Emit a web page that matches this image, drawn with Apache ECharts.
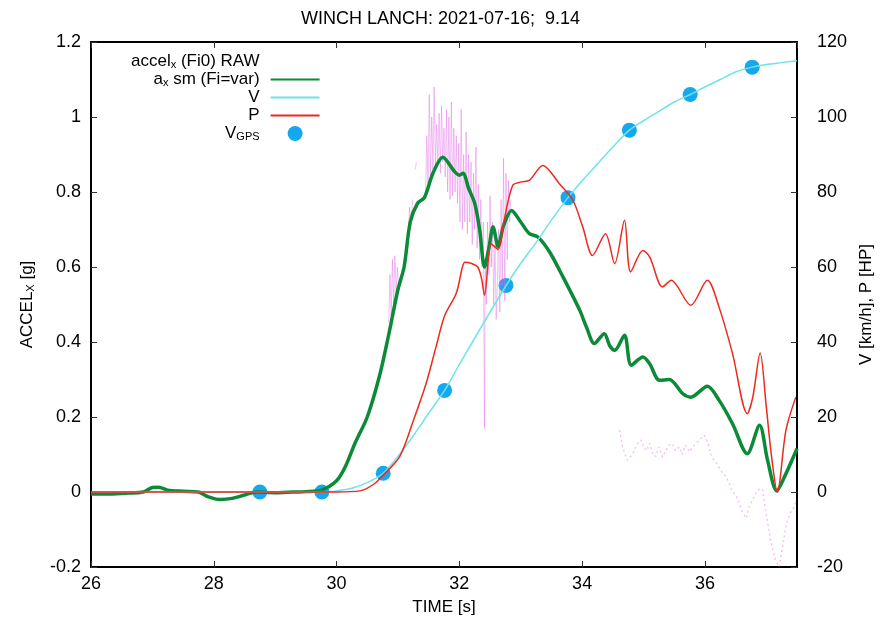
<!DOCTYPE html>
<html>
<head>
<meta charset="utf-8">
<script src="https://cdn.jsdelivr.net/npm/echarts@6/dist/echarts.min.js"></script>
<style>
  html, body { margin: 0; padding: 0; background: #fff; }
  #main { width: 881px; height: 625px; }
</style>
</head>
<body>
<div id="main"></div>
<script>
// raw acceleration samples, noisy part (vertical streaks), null = gap
var rawTime = [
    30.85, 30.87, 30.89, 30.91, 30.93, 30.95, 30.97, 30.99, 31.01, 31.03,
    31.17, 31.19, 31.21, 31.24, 31.26,
    31.28, 31.30, 31.32,
    31.45, 31.47, 31.49, 31.51, 31.53, 31.55, 31.57, 31.59, 31.61, 31.63, 31.65, 31.67, 31.69, 31.71, 31.73, 31.75,
    31.77, 31.79, 31.81, 31.83, 31.85, 31.87, 31.89, 31.91, 31.93, 31.95, 31.97, 31.99, 32.01, 32.03, 32.05, 32.07,
    32.09, 32.11, 32.13, 32.15, 32.17, 32.19, 32.21, 32.23, 32.25, 32.27, 32.29, 32.31, 32.33, 32.35, 32.37, 32.39,
    32.41, 32.42, 32.44, 32.46, 32.48, 32.50, 32.52, 32.54, 32.56, 32.58, 32.60, 32.62, 32.64, 32.66, 32.68, 32.70,
    32.72, 32.74, 32.76, 32.78, 32.80, 32.82, 32.84, 32.86,
    33.55, 33.57, 33.59,
    34.30, 34.33, 34.35
];
var rawAccel = [
    0.45, 0.58, 0.47, 0.62, 0.50, 0.63, 0.53, 0.60, 0.55, null,
    0.70, 0.76, 0.71, 0.78, null,
    0.86, 0.88, null,
    0.80, 0.95, 0.82, 1.06, 0.84, 1.00, 0.86, 1.08, 0.87, 0.98, 0.88, 1.01, 0.85, 1.03, 0.88, 0.97,
    0.84, 1.02, 0.80, 1.00, 0.78, 1.04, 0.79, 0.97, 0.80, 0.95, 0.77, 0.93, 0.72, 1.02, 0.70, 0.90,
    0.72, 0.96, 0.69, 0.90, 0.72, 0.88, 0.66, 0.85, 0.70, 0.92, 0.65, 0.82, 0.62, 0.78, 0.60, 0.72,
    0.17, 0.62, 0.50, 0.72, 0.58, 0.79, 0.60, 0.72, 0.50, 0.66, 0.46, 0.56, 0.70, 0.48, 0.78, 0.55,
    0.89, 0.51, 0.85, 0.62, 0.83, 0.72, 0.78, null,
    0.63, 0.60, null,
    0.43, 0.41, null
];
// raw acceleration, late sparse part
var rawLateTime = [
    34.61, 34.66, 34.70, 34.74, 34.77, 34.82, 34.87, 34.92, 34.96, 35.00, 35.05, 35.10, 35.15, 35.20, 35.25, 35.31,
    35.36, 35.42, 35.47, 35.52, 35.58, 35.63, 35.68, 35.75, 35.80, 35.86, 35.92, 35.99, 36.05, 36.10, 36.15, 36.20,
    36.25, 36.29, 36.35, 36.40, 36.45, 36.51, 36.56, 36.60, 36.67, 36.72, 36.78, 36.84, 36.90, 36.94, 36.98, 37.02,
    37.06, 37.10, 37.15, 37.21, 37.26, 37.32, 37.38, 37.45, 37.50
];
var rawLateAccel = [
    0.165, 0.12, 0.10, 0.085, 0.08, 0.10, 0.12, 0.135, 0.138, 0.12, 0.11, 0.13, 0.10, 0.095, 0.12, 0.093,
    0.11, 0.125, 0.129, 0.11, 0.12, 0.10, 0.125, 0.107, 0.12, 0.13, 0.14, 0.151, 0.13, 0.10, 0.085, 0.075,
    0.06, 0.05, 0.04, 0.02, 0.0, -0.01, -0.03, -0.05, -0.07, -0.04, -0.02, 0.0, 0.01, 0.005, -0.04, -0.08,
    -0.12, -0.15, -0.18, -0.20, -0.15, -0.09, -0.06, -0.04, -0.02
];

// smoothed acceleration
var smTime = [
    26.0, 26.3, 26.6, 26.85, 27.0, 27.1, 27.25, 27.5, 27.75, 27.9, 28.1, 28.3, 28.5, 28.7, 29.0, 29.3,
    29.5, 29.75, 30.0, 30.15, 30.3, 30.5, 30.7, 30.85, 31.0, 31.1, 31.2, 31.32, 31.43, 31.57, 31.73, 31.92,
    32.0, 32.06, 32.15, 32.25, 32.33, 32.41, 32.48, 32.55, 32.63, 32.72, 32.85, 33.0, 33.14, 33.28, 33.47, 33.69,
    33.96, 34.07, 34.2, 34.36, 34.45, 34.53, 34.69, 34.8, 34.99, 35.1, 35.26, 35.42, 35.64, 35.77, 36.04, 36.23,
    36.45, 36.69, 36.89, 37.02, 37.17, 37.32, 37.5
];
var smAccel = [
    -0.005, -0.005, -0.003, 0.0, 0.012, 0.013, 0.005, 0.002, 0.0, -0.012, -0.02, -0.017, -0.008, 0.0, -0.002, 0.0,
    0.001, 0.005, 0.03, 0.07, 0.13, 0.2, 0.31, 0.42, 0.54, 0.6, 0.72, 0.77, 0.785, 0.85, 0.893, 0.855,
    0.845, 0.85, 0.81, 0.77, 0.70, 0.60, 0.65, 0.707, 0.655, 0.71, 0.751, 0.72, 0.689, 0.68, 0.64, 0.573,
    0.485, 0.44, 0.396, 0.422, 0.39, 0.378, 0.418, 0.338, 0.36, 0.342, 0.298, 0.30, 0.262, 0.253, 0.282, 0.245,
    0.182, 0.102, 0.178, 0.085, 0.003, 0.049, 0.116
];

// speed V [km/h]
var vTime = [26.0, 29.8, 30.0, 30.25, 30.5, 30.76, 31.0, 31.25, 31.5, 31.76, 32.0, 32.25, 32.5, 32.76, 33.0, 33.25,
    33.5, 33.77, 34.0, 34.25, 34.5, 34.77, 35.0, 35.25, 35.5, 35.76, 36.0, 36.25, 36.5, 36.77, 37.0, 37.25, 37.5];
var vSpeed = [0, 0, 0.3, 1, 2.5, 5, 9.5, 15, 21, 27.1, 34, 41, 48, 55, 61, 66.5,
    72.5, 78.5, 83, 87.5, 92, 96.5, 99, 101.5, 104, 106, 108, 110, 112, 113.3, 114, 114.5, 115];

// power P [HP]
var pTime = [26.0, 30.0, 30.38, 30.6, 30.76, 31.03, 31.25, 31.46, 31.62, 31.76, 31.95, 32.05, 32.09, 32.19, 32.3, 32.36,
    32.41, 32.52, 32.63, 32.73, 32.87, 33.01, 33.14, 33.36, 33.63, 33.85, 34.01, 34.17, 34.38, 34.53, 34.69, 34.79,
    34.99, 35.1, 35.31, 35.45, 35.77, 36.04, 36.23, 36.45, 36.69, 36.78, 36.9, 37.0, 37.08, 37.18, 37.32, 37.48];
var pPower = [0, 0, 0.3, 2, 4.5, 9.5, 19, 29, 38.7, 47, 53, 60, 61.3, 61, 60, 57,
    52.5, 66.2, 64.7, 72.5, 81.8, 82.7, 83.1, 87.1, 82.2, 77.8, 70.7, 63.1, 68.9, 60.9, 72.5, 58.7,
    64.4, 62.7, 54.7, 56.5, 49.8, 56.5, 49.3, 36.9, 20.9, 25.3, 37.1, 22.7, 10.2, 0, 16.5, 25.3];

// GPS speed
var gpsTime = [28.75, 29.76, 30.76, 31.76, 32.76, 33.77, 34.77, 35.76, 36.77];
var gpsSpeed = [0, 0, 5, 27.1, 55.1, 78.5, 96.5, 106, 113.3];

function pairs(xs, ys) {
    return xs.map(function (x, i) { return [x, ys[i]]; });
}

var font = 'Liberation Sans, Arial, sans-serif';
var legendText = {
    raw: '{n|accel}{s|x}{n| (Fi0) RAW}',
    sm: '{n|a}{s|x}{n| sm (Fi=var)}',
    V: '{n|V}',
    P: '{n|P}',
    VGPS: '{n|V}{s|GPS}'
};

var chart = echarts.init(document.getElementById('main'));

function xAx(pos, showLabel) {
    return {
        type: 'value',
        position: pos,
        min: 26,
        max: 37.5,
        interval: 2,
        name: showLabel ? 'TIME [s]' : '',
        nameLocation: 'middle',
        nameGap: 32,
        nameTextStyle: { color: '#000', fontSize: 17, fontFamily: font },
        axisLine: { show: true, onZero: false, lineStyle: { color: '#000', width: 2 } },
        axisTick: { show: true, inside: true, length: 6, lineStyle: { color: '#333' } },
        axisLabel: { show: showLabel, color: '#000', fontSize: 18, fontFamily: font, margin: 8, showMaxLabel: false },
        splitLine: { show: false }
    };
}

function yAx(pos, min, max, step, name, gap, margin) {
    return {
        type: 'value',
        position: pos,
        min: min,
        max: max,
        interval: step,
        name: name,
        nameLocation: 'middle',
        nameGap: gap,
        nameRotate: 90,
        nameTextStyle: {
            color: '#000',
            fontSize: 17,
            fontFamily: font,
            rich: {
                n: { fontSize: 17, color: '#000', fontFamily: font },
                s: { fontSize: 11, color: '#000', fontFamily: font, padding: [7, 0, 0, 0] }
            }
        },
        axisLine: { show: true, onZero: false, lineStyle: { color: '#000', width: 2 } },
        axisTick: { show: true, inside: true, length: 6, lineStyle: { color: '#333' } },
        axisLabel: { color: '#000', fontSize: 18, fontFamily: font, margin: margin },
        splitLine: { show: false }
    };
}

chart.setOption({
    animation: false,
    backgroundColor: '#fff',
    title: {
        text: 'WINCH LANCH: 2021-07-16;  9.14',
        left: 'center',
        top: 5,
        textStyle: { color: '#000', fontSize: 18, fontWeight: 'normal', fontFamily: font }
    },
    grid: { left: 91, right: 84, top: 42, bottom: 58, outerBoundsMode: 'none' },
    legend: {
        orient: 'vertical',
        align: 'right',
        left: 126,
        top: 48,
        itemGap: 1,
        itemWidth: 49,
        itemHeight: 15,
        data: [
            { name: 'raw', itemStyle: { opacity: 0 }, lineStyle: { opacity: 0 } },
            { name: 'sm', itemStyle: { opacity: 0 } },
            { name: 'V', itemStyle: { opacity: 0 } },
            { name: 'P', itemStyle: { opacity: 0 } },
            'VGPS'
        ],
        formatter: function (name) { return legendText[name]; },
        textStyle: {
            width: 142,
            align: 'right',
            padding: [0, 6, 0, 0],
            rich: {
                n: { fontSize: 17, color: '#000', fontFamily: font, lineHeight: 17 },
                s: { fontSize: 11, color: '#000', fontFamily: font, lineHeight: 9, verticalAlign: 'bottom' }
            }
        }
    },
    xAxis: [xAx('bottom', true), xAx('top', false)],
    yAxis: [
        yAx('left', -0.2, 1.2, 0.2, '{n|ACCEL}{s|X}{n| [g]}', 55, 10),
        yAx('right', -20, 120, 20, 'V [km/h], P [HP]', 56, 20)
    ],
    series: [
        {
            name: 'raw',
            type: 'line',
            yAxisIndex: 0,
            symbol: 'none',
            connectNulls: false,
            lineStyle: { color: '#e066e6', width: 1, opacity: 0.42 },
            itemStyle: { color: '#e066e6' },
            data: pairs(rawTime, rawAccel)
        },
        {
            name: 'raw',
            type: 'line',
            yAxisIndex: 0,
            symbol: 'none',
            lineStyle: { color: '#e066e6', width: 1.5, opacity: 0.4, type: [2, 3] },
            itemStyle: { color: '#e066e6' },
            data: pairs(rawLateTime, rawLateAccel)
        },
        {
            name: 'sm',
            type: 'line',
            yAxisIndex: 0,
            symbol: 'none',
            smooth: 0.3,
            lineStyle: { color: '#0b8a37', width: 3.5 },
            itemStyle: { color: '#0b8a37' },
            data: pairs(smTime, smAccel)
        },
        {
            name: 'V',
            type: 'line',
            yAxisIndex: 1,
            symbol: 'none',
            smooth: 0.3,
            lineStyle: { color: '#6fe3ea', width: 1.5 },
            itemStyle: { color: '#6fe3ea' },
            data: pairs(vTime, vSpeed)
        },
        {
            name: 'P',
            type: 'line',
            yAxisIndex: 1,
            symbol: 'none',
            smooth: 0.3,
            lineStyle: { color: '#ec2a1e', width: 1.5 },
            itemStyle: { color: '#ec2a1e' },
            data: pairs(pTime, pPower)
        },
        {
            name: 'VGPS',
            type: 'scatter',
            yAxisIndex: 1,
            symbolSize: 15,
            itemStyle: { color: '#16a8ef', opacity: 1 },
            data: pairs(gpsTime, gpsSpeed)
        }
    ]
});
</script>
</body>
</html>
